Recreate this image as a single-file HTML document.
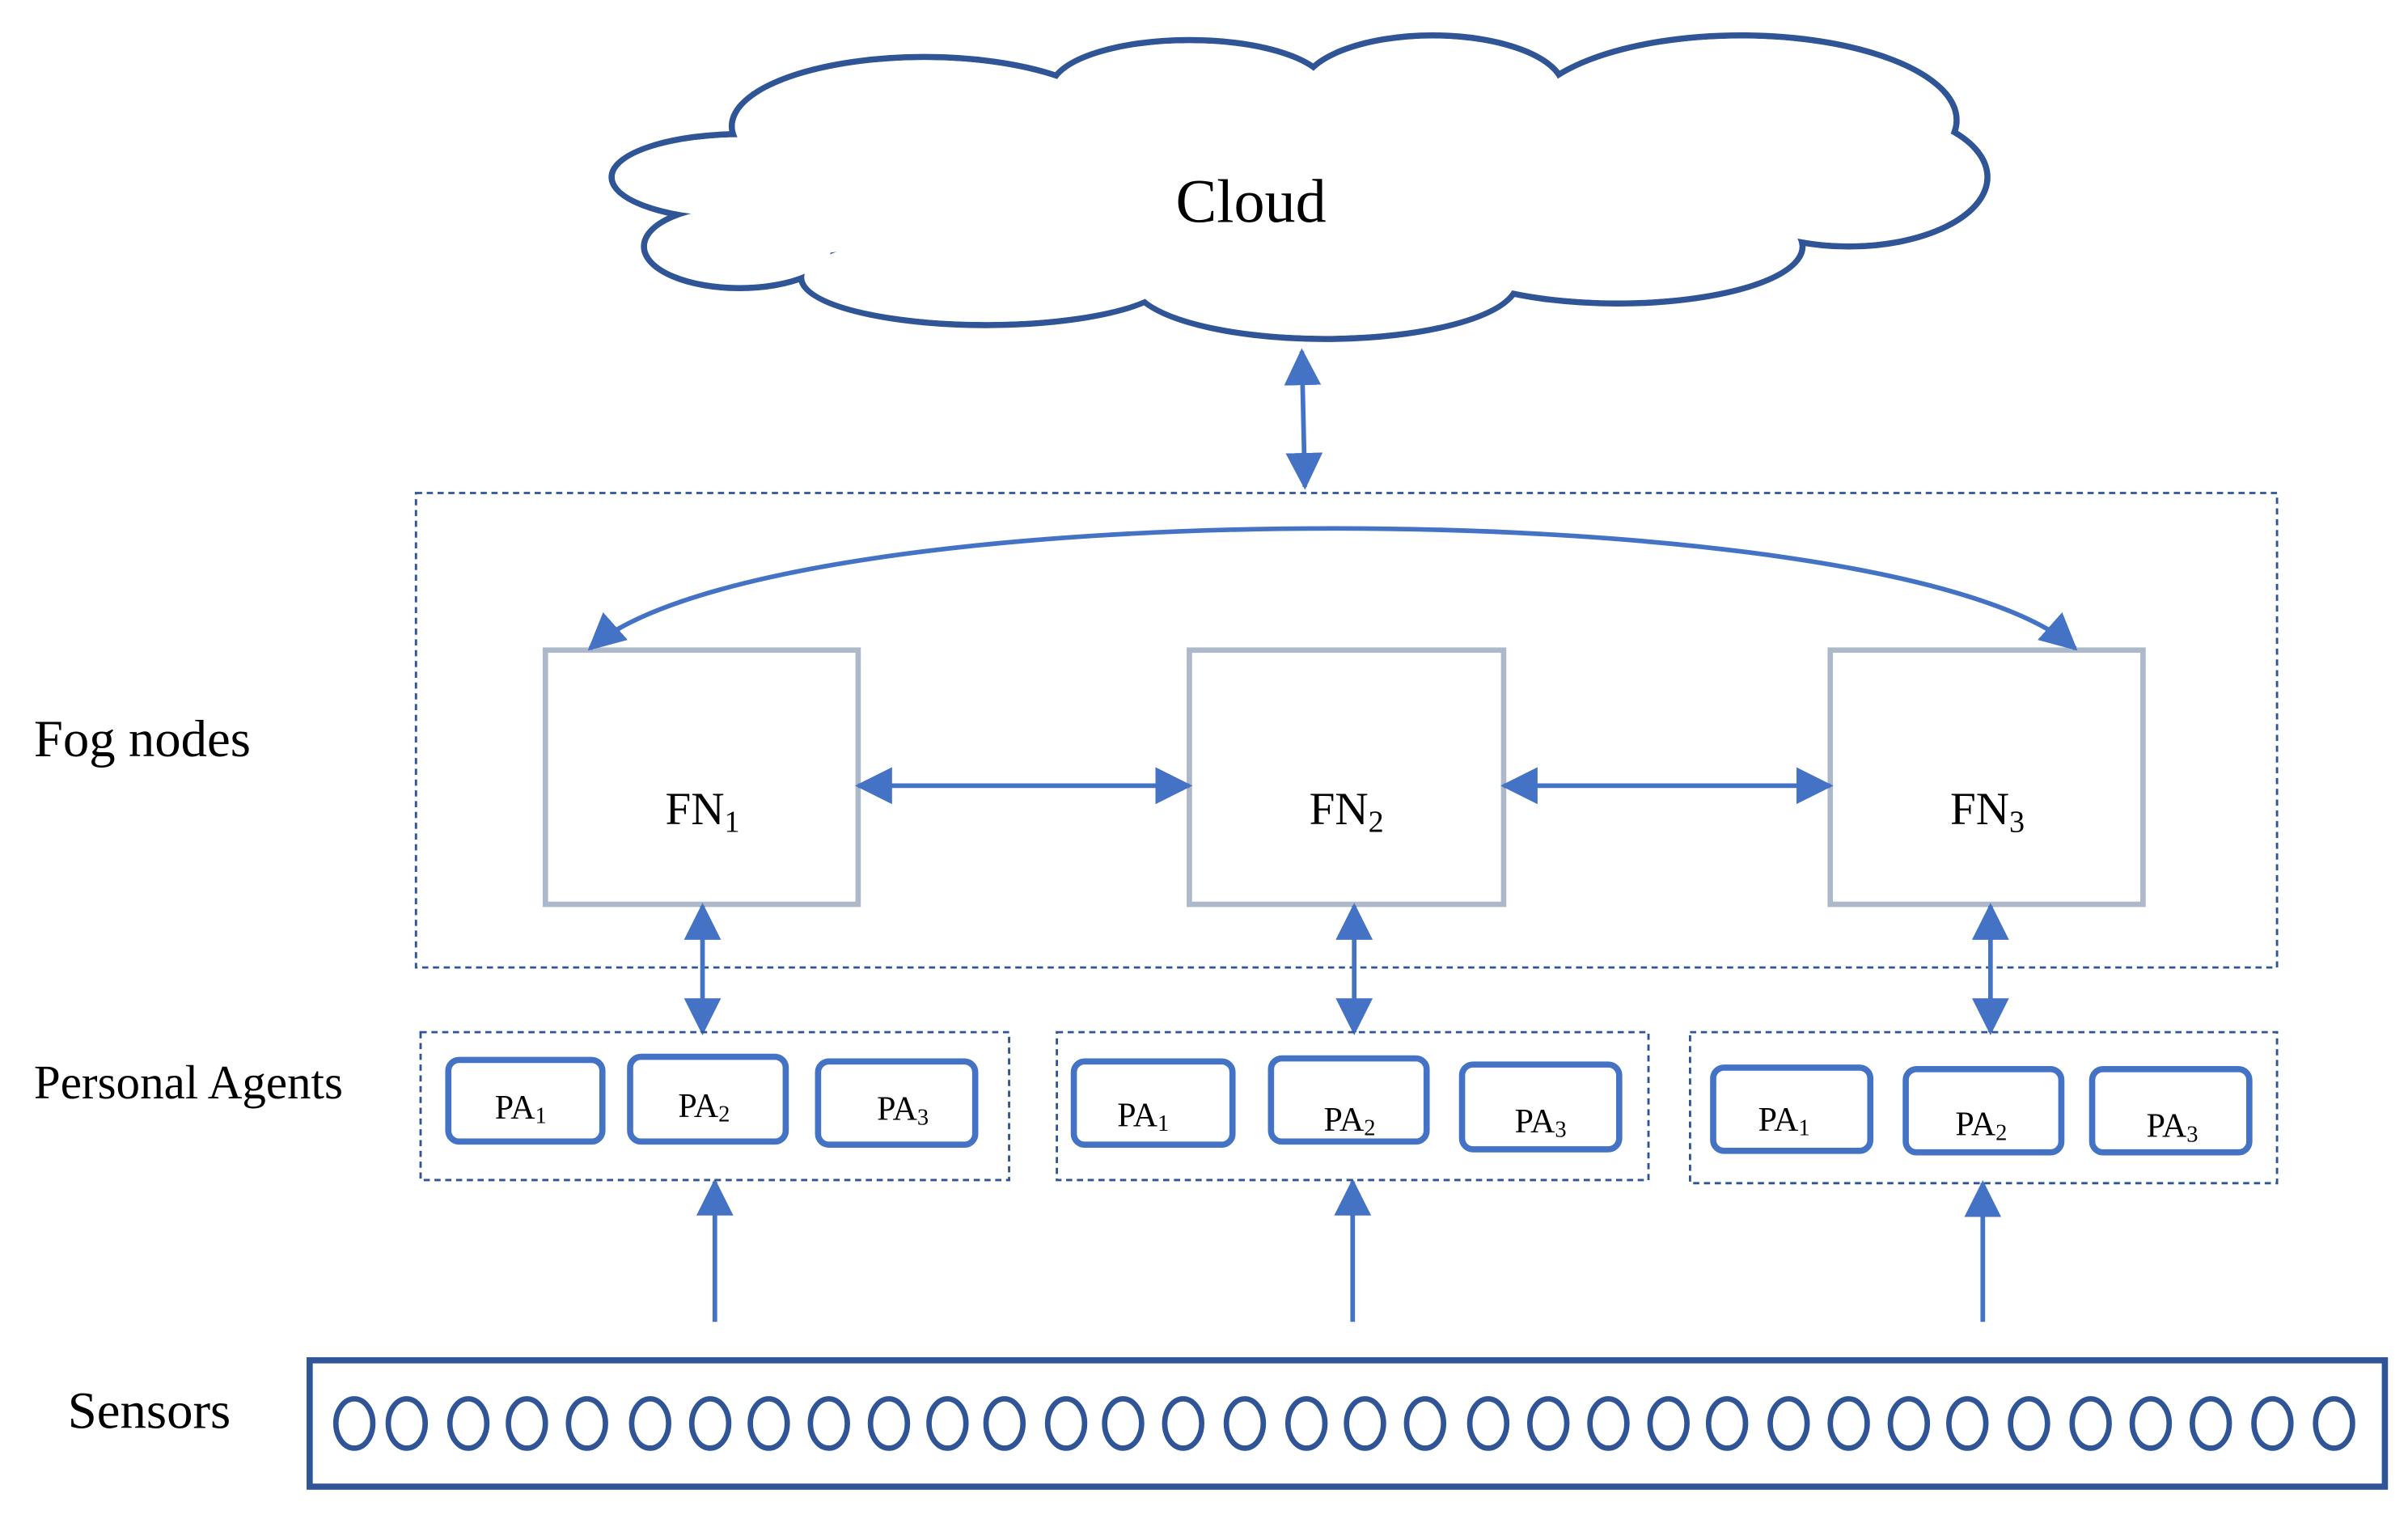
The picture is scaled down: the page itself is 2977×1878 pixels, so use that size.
<!DOCTYPE html>
<html><head><meta charset="utf-8"><style>
html,body{margin:0;padding:0;background:#fff;}
svg{display:block;}
text{font-family:"Liberation Serif",serif;fill:#000;}
</style></head><body>
<svg width="2977" height="1878" viewBox="0 0 1563 986" xmlns="http://www.w3.org/2000/svg">
<defs>
<marker id="a" markerUnits="userSpaceOnUse" markerWidth="26" markerHeight="26" refX="22" refY="12" orient="auto-start-reverse">
<path d="M0,0 L24,12 L0,24 Z" fill="#4472c4"/>
</marker>
</defs>
<rect width="1563" height="986" fill="#fff"/>
<!-- cloud -->
<g stroke="#2f5597" stroke-width="4" fill="none">
<ellipse cx="482" cy="115" rx="85" ry="28"/>
<ellipse cx="480" cy="160" rx="62" ry="27"/>
<ellipse cx="600" cy="82" rx="125" ry="45"/>
<ellipse cx="772" cy="58" rx="90" ry="32"/>
<ellipse cx="930" cy="58" rx="85" ry="35"/>
<ellipse cx="1130" cy="78" rx="140" ry="55"/>
<ellipse cx="1200" cy="115" rx="90" ry="45"/>
<ellipse cx="1050" cy="160" rx="120" ry="37"/>
<ellipse cx="860" cy="183" rx="125" ry="37"/>
<ellipse cx="640" cy="180" rx="120" ry="31"/>
</g>
<g fill="#fff">
<ellipse cx="482" cy="115" rx="83" ry="26"/>
<ellipse cx="480" cy="160" rx="60" ry="25"/>
<ellipse cx="600" cy="82" rx="123" ry="43"/>
<ellipse cx="772" cy="58" rx="88" ry="30"/>
<ellipse cx="930" cy="58" rx="83" ry="33"/>
<ellipse cx="1130" cy="78" rx="138" ry="53"/>
<ellipse cx="1200" cy="115" rx="88" ry="43"/>
<ellipse cx="1050" cy="160" rx="118" ry="35"/>
<ellipse cx="860" cy="183" rx="123" ry="35"/>
<ellipse cx="640" cy="180" rx="118" ry="29"/>
<ellipse cx="840" cy="120" rx="360" ry="62"/>
<ellipse cx="520" cy="145" rx="60" ry="20"/>
</g>
<text x="812" y="144" font-size="40" text-anchor="middle">Cloud</text>

<!-- labels -->
<text x="22" y="491" font-size="34">Fog nodes</text>
<text x="22" y="713" font-size="31">Personal Agents</text>
<text x="44" y="927" font-size="34">Sensors</text>

<!-- fog box -->
<rect x="270" y="320" width="1208" height="308" fill="none" stroke="#2f5597" stroke-width="1.5" stroke-dasharray="4,3"/>
<g fill="none" stroke="#adb9ca" stroke-width="3.5">
<rect x="354" y="422" width="203" height="165"/>
<rect x="772" y="422" width="204" height="165"/>
<rect x="1188" y="422" width="203" height="165"/>
</g>
<g font-size="30" text-anchor="middle">
<text x="456" y="535">FN<tspan font-size="20" dy="5">1</tspan></text>
<text x="874" y="535">FN<tspan font-size="20" dy="5">2</tspan></text>
<text x="1290" y="535">FN<tspan font-size="20" dy="5">3</tspan></text>
</g>

<!-- arrows -->
<g stroke="#4472c4" stroke-width="3" fill="none" marker-start="url(#a)" marker-end="url(#a)">
<line x1="845" y1="228" x2="847" y2="316"/>
<path d="M383,421 C500,317 1230,317 1347,421"/>
<line x1="557" y1="510" x2="772" y2="510"/>
<line x1="976" y1="510" x2="1188" y2="510"/>
<line x1="456" y1="588" x2="456" y2="670"/>
<line x1="879" y1="588" x2="879" y2="670"/>
<line x1="1292" y1="588" x2="1292" y2="670"/>
</g>
<g stroke="#4472c4" stroke-width="3" fill="none" marker-end="url(#a)">
<line x1="464" y1="858" x2="464" y2="767"/>
<line x1="878" y1="858" x2="878" y2="767"/>
<line x1="1287" y1="858" x2="1287" y2="768"/>
</g>

<!-- PA groups -->
<g fill="none" stroke="#2f5597" stroke-width="1.5" stroke-dasharray="4,3">
<rect x="273" y="670" width="382" height="96"/>
<rect x="686" y="670" width="384" height="96"/>
<rect x="1097" y="670" width="381" height="98"/>
</g>
<g fill="#fff" stroke="#4472c4" stroke-width="4">
<rect x="291" y="688" width="100" height="53" rx="7"/>
<rect x="409" y="686" width="101" height="55" rx="7"/>
<rect x="531" y="689" width="102" height="54" rx="7"/>
<rect x="697" y="689" width="103" height="54" rx="7"/>
<rect x="825" y="687" width="101" height="54" rx="7"/>
<rect x="949" y="691" width="102" height="55" rx="7"/>
<rect x="1112" y="693" width="102" height="54" rx="7"/>
<rect x="1237" y="694" width="101" height="54" rx="7"/>
<rect x="1358" y="694" width="102" height="54" rx="7"/>
</g>
<g font-size="22" text-anchor="middle">
<text x="338" y="726">PA<tspan font-size="15" dy="3">1</tspan></text>
<text x="457" y="725">PA<tspan font-size="15" dy="3">2</tspan></text>
<text x="586" y="727">PA<tspan font-size="15" dy="3">3</tspan></text>
<text x="742" y="731">PA<tspan font-size="15" dy="3">1</tspan></text>
<text x="876" y="734">PA<tspan font-size="15" dy="3">2</tspan></text>
<text x="1000" y="735">PA<tspan font-size="15" dy="3">3</tspan></text>
<text x="1158" y="734">PA<tspan font-size="15" dy="3">1</tspan></text>
<text x="1286" y="737">PA<tspan font-size="15" dy="3">2</tspan></text>
<text x="1410" y="738">PA<tspan font-size="15" dy="3">3</tspan></text>
</g>

<!-- sensors -->
<rect x="201" y="883" width="1347" height="82" fill="none" stroke="#2f5597" stroke-width="4"/>
<g fill="none" stroke="#2f5597" stroke-width="3.5">
<ellipse cx="230" cy="924" rx="12" ry="16"/><ellipse cx="264" cy="924" rx="12" ry="16"/><ellipse cx="304" cy="924" rx="12" ry="16"/><ellipse cx="342" cy="924" rx="12" ry="16"/><ellipse cx="381" cy="924" rx="12" ry="16"/><ellipse cx="422" cy="924" rx="12" ry="16"/><ellipse cx="461" cy="924" rx="12" ry="16"/><ellipse cx="499" cy="924" rx="12" ry="16"/><ellipse cx="538" cy="924" rx="12" ry="16"/><ellipse cx="577" cy="924" rx="12" ry="16"/><ellipse cx="615" cy="924" rx="12" ry="16"/><ellipse cx="652" cy="924" rx="12" ry="16"/><ellipse cx="692" cy="924" rx="12" ry="16"/><ellipse cx="729" cy="924" rx="12" ry="16"/><ellipse cx="768" cy="924" rx="12" ry="16"/><ellipse cx="808" cy="924" rx="12" ry="16"/><ellipse cx="848" cy="924" rx="12" ry="16"/><ellipse cx="886" cy="924" rx="12" ry="16"/><ellipse cx="925" cy="924" rx="12" ry="16"/><ellipse cx="966" cy="924" rx="12" ry="16"/><ellipse cx="1005" cy="924" rx="12" ry="16"/><ellipse cx="1044" cy="924" rx="12" ry="16"/><ellipse cx="1083" cy="924" rx="12" ry="16"/><ellipse cx="1121" cy="924" rx="12" ry="16"/><ellipse cx="1161" cy="924" rx="12" ry="16"/><ellipse cx="1200" cy="924" rx="12" ry="16"/><ellipse cx="1239" cy="924" rx="12" ry="16"/><ellipse cx="1277" cy="924" rx="12" ry="16"/><ellipse cx="1317" cy="924" rx="12" ry="16"/><ellipse cx="1357" cy="924" rx="12" ry="16"/><ellipse cx="1396" cy="924" rx="12" ry="16"/><ellipse cx="1435" cy="924" rx="12" ry="16"/><ellipse cx="1475" cy="924" rx="12" ry="16"/><ellipse cx="1515" cy="924" rx="12" ry="16"/>
</g>
</svg>
</body></html>
